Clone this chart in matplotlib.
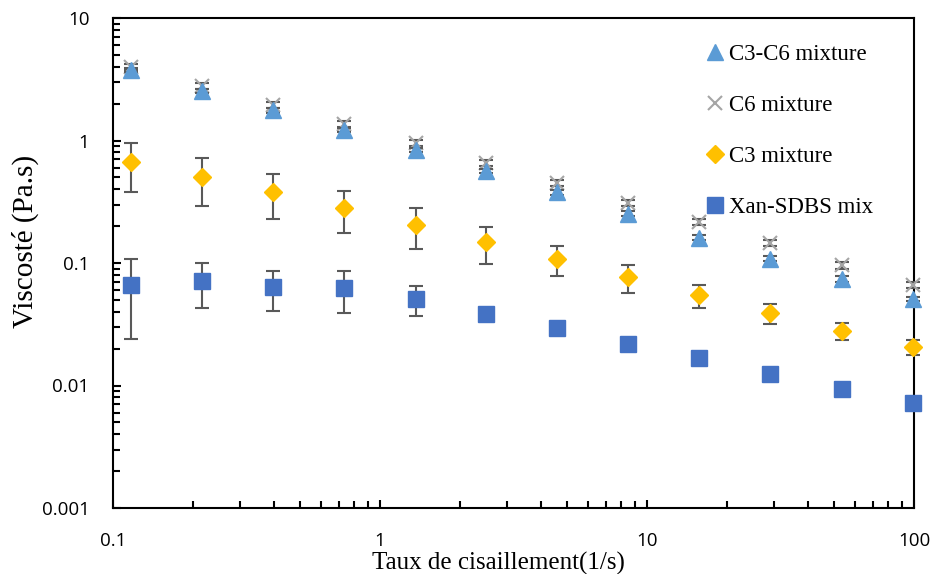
import numpy as np
import matplotlib.pyplot as plt
from matplotlib.ticker import LogLocator, NullFormatter, FixedLocator, FixedFormatter

plt.rcParams['font.family'] = ['Open Sans', 'DejaVu Sans']

# shear rate (1/s)
shear = [0.117, 0.216, 0.398, 0.735, 1.36, 2.50, 4.61, 8.50, 15.7, 29.0, 53.6, 99.0]

# viscosity (Pa.s)
c3c6 = [3.75, 2.55, 1.76, 1.22, 0.84, 0.565, 0.38, 0.252, 0.161, 0.108, 0.074, 0.051]
c3c6_err = [0.15, 0.1, 0.07, 0.05, 0.035, 0.025, 0.018, 0.012, 0.008, 0.005, 0.004, 0.002]
c6 = [3.98, 2.79, 1.95, 1.36, 0.955, 0.655, 0.45, 0.309, 0.216, 0.146, 0.096, 0.066]
c6_err = [0.2, 0.14, 0.1, 0.07, 0.05, 0.035, 0.025, 0.017, 0.012, 0.008, 0.006, 0.004]
c3 = [0.667, 0.503, 0.38, 0.281, 0.204, 0.148, 0.108, 0.077, 0.0548, 0.0391, 0.0279, 0.0206]
c3_err = [0.29, 0.21, 0.15, 0.105, 0.075, 0.049, 0.03, 0.02, 0.0115, 0.0075, 0.0045, 0.0028]
xan = [0.066, 0.0713, 0.0637, 0.0624, 0.0508, 0.0384, 0.0294, 0.0218, 0.0168, 0.0124, 0.00936, 0.0072]
xan_err = [0.042, 0.028, 0.023, 0.023, 0.014, 0.002, 0.0015, 0.001, 0.0008, 0.0006, 0.0004, 0.0003]

labels = ['C3-C6 mixture', 'C6 mixture', 'C3 mixture', 'Xan-SDBS mix']
xticks = [0.1, 1, 10, 100]
yticks = [0.001, 0.01, 0.1, 1, 10]

fig = plt.figure(figsize=(9.36, 5.74), dpi=100)
ax = fig.add_axes([113/936, 1-508/574, (914-113)/936, (508-18)/574])

ebar = dict(ecolor='#595959', elinewidth=1.5, capsize=5, capthick=1.5, linestyle='none')
ax.errorbar(shear, c3c6, yerr=c3c6_err, marker='^', ms=11, color='#5B9BD5', mec='#5B9BD5',
            label=labels[0], zorder=4, clip_on=False, **ebar)
ax.errorbar(shear, c6, yerr=c6_err, marker='x', ms=10, mew=1.5, color='#A5A5A5',
            label=labels[1], zorder=3, clip_on=False, **ebar)
ax.errorbar(shear, c3, yerr=c3_err, marker='D', ms=9, color='#FFC000', mec='#FFC000',
            label=labels[2], zorder=3, clip_on=False, **ebar)
ax.errorbar(shear, xan, yerr=xan_err, marker='s', ms=11, color='#4472C4', mec='#4472C4',
            label=labels[3], zorder=3, clip_on=False, **ebar)

ax.set_xscale('log')
ax.set_yscale('log')
ax.set_xlim(0.1, 100)
ax.set_ylim(0.001, 10)

for s in ax.spines.values():
    s.set_linewidth(1.5)
    s.set_color('black')

ax.xaxis.set_major_locator(FixedLocator(xticks))
ax.xaxis.set_major_formatter(FixedFormatter([f'{v:g}' for v in xticks]))
ax.yaxis.set_major_locator(FixedLocator(yticks))
ax.yaxis.set_major_formatter(FixedFormatter([f'{v:g}' for v in yticks]))
ax.xaxis.set_minor_locator(LogLocator(base=10, subs=np.arange(2, 10)))
ax.yaxis.set_minor_locator(LogLocator(base=10, subs=np.arange(2, 10)))
ax.xaxis.set_minor_formatter(NullFormatter())
ax.yaxis.set_minor_formatter(NullFormatter())
ax.tick_params(which='both', direction='in', width=1.5, top=False, right=False)
ax.tick_params(which='major', length=6, labelsize=13.5, pad=17)
ax.tick_params(which='minor', length=5)

ax.set_xlabel('Taux de cisaillement(1/s)', fontfamily='Liberation Serif', fontsize=18)
ax.set_ylabel('Viscosté (Pa.s)', fontfamily='Liberation Serif', fontsize=21)
ax.xaxis.set_label_coords(0.481, -0.09)
ax.yaxis.set_label_coords(-0.092, 0.545)

h, l = ax.get_legend_handles_labels()
h = [hh[0] for hh in h]
leg = ax.legend(h, l, loc='upper right', bbox_to_anchor=(0.96, 0.965), frameon=False,
                prop={'family': 'Liberation Serif', 'size': 16.5}, handlelength=0.6,
                handletextpad=0.3, labelspacing=1.3, borderaxespad=0)
leg.set_zorder(10)

fig.savefig('out.png', dpi=100)
